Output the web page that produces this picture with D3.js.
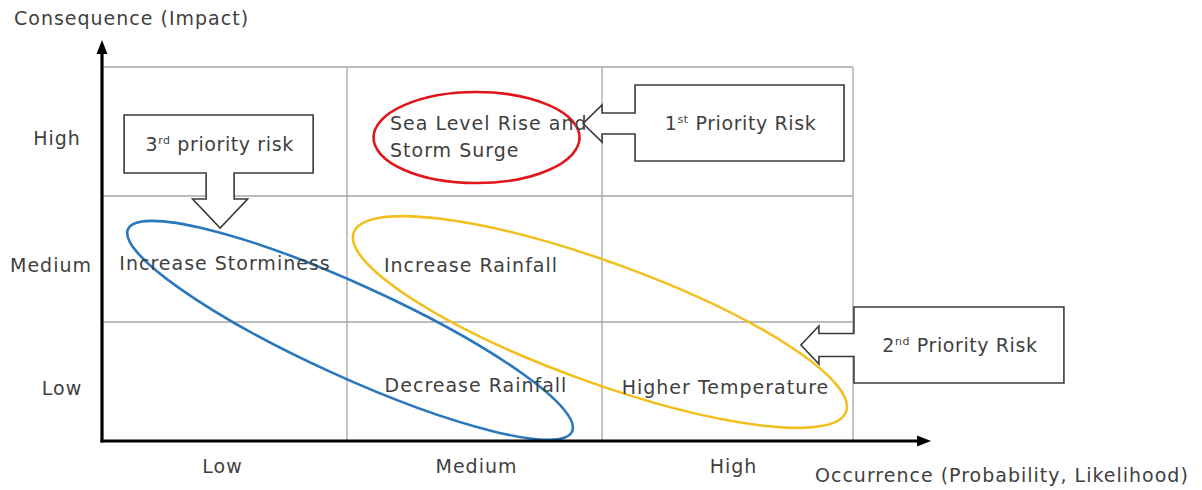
<!DOCTYPE html>
<html>
<head>
<meta charset="utf-8">
<script src="https://cdn.jsdelivr.net/npm/d3@7"></script>
<style>
  html, body { margin: 0; padding: 0; background: #ffffff; }
  svg { display: block; }
  text { font-family: "DejaVu Sans", "Noto Sans", sans-serif; fill: #3f3f3f; letter-spacing: 1px; }
</style>
</head>
<body>
<svg id="chart" width="1202" height="490"></svg>
<script>
// ---------------- data ----------------
const occurrenceLevels = ["Low", "Medium", "High"];      // x categories
const consequenceLevels = ["Low", "Medium", "High"];     // y categories
const xAxisTitle = "Occurrence (Probability, Likelihood)";
const yAxisTitle = "Consequence (Impact)";

const riskLabels = [
  ["Sea Level Rise and", "Storm Surge"],
  ["Increase Storminess"],
  ["Increase Rainfall"],
  ["Decrease Rainfall"],
  ["Higher Temperature"]
];
const riskOccurrence  = ["Medium", "Low", "Medium", "Medium", "High"];
const riskConsequence = ["High", "Medium", "Medium", "Low", "Low"];

const priorityNumber = ["1", "2", "3"];
const prioritySuffix = ["st", "nd", "rd"];
const priorityText   = [" Priority Risk", " Priority Risk", " priority risk"];
const priorityMembers = [[0], [2, 4], [1, 3]];

// ---------------- layout / style ----------------
const svg = d3.select("#chart");
// piecewise scales: cell boundaries as drawn in the matrix
const x = d3.scaleLinear().domain([0, 1, 2, 3]).range([102, 347, 602, 853]);
const y = d3.scaleLinear().domain([0, 1, 2, 3]).range([441, 322, 196, 67]);
const xi = c => occurrenceLevels.indexOf(c) + 0.5;
const yi = c => consequenceLevels.indexOf(c) + 0.5;

const ringColors = ["#e0161c", "#f2c01e", "#2b77bc"];
// ring geometry: centre in data units, radii in px, rotation in degrees
const ringGeom = [
  { cx: 1.508, cy: 2.453, rx: 103, ry: 45.5, angle: 0 },
  { cx: 1.992, cy: 1.0,   rx: 262, ry: 60,   angle: 20 },
  { cx: 1.012, cy: 0.93,  rx: 244, ry: 46,   angle: 24.5 }
];
// callout geometry: box centre in data units, sizes in px
const calloutGeom = [
  { cx: 2.548, cy: 2.566, w: 209, h: 76, dir: "left", sh: 10.5, sl: 33, hh: 18.5, hl: 19, off: 0.5 },
  { cx: 3.422, cy: 0.807, w: 210, h: 76, dir: "left", sh: 11.5, sl: 35, hh: 19,   hl: 18, off: 0 },
  { cx: 0.476, cy: 2.403, w: 189, h: 58, dir: "down", sh: 14,   sl: 26, hh: 27.5, hl: 29, off: 1.5 }
];
const labelNudge = [{ dx: 43, dy: -1.5 }, { dx: 0.5, dy: 11 }, { dx: -3.5, dy: 13 }, { dx: 1.5, dy: 10.5 }, { dx: -2, dy: 12.5 }];
const xTickNudge = [-2, 2, 6];
const yTickX = [62, 51, 57];
const FS = 19;

// ---------------- grid ----------------
const grid = svg.append("g").attr("stroke", "#a6a6a6").attr("stroke-width", 1.3);
d3.range(1, occurrenceLevels.length + 1).forEach(i => {
  grid.append("line").attr("x1", x(i)).attr("x2", x(i)).attr("y1", y(0)).attr("y2", y(consequenceLevels.length));
});
d3.range(1, consequenceLevels.length + 1).forEach(j => {
  grid.append("line").attr("x1", x(0)).attr("x2", x(occurrenceLevels.length)).attr("y1", y(j)).attr("y2", y(j));
});

// ---------------- rings ----------------
svg.append("g").selectAll("ellipse").data(ringGeom).join("ellipse")
  .attr("cx", 0).attr("cy", 0)
  .attr("rx", d => d.rx).attr("ry", d => d.ry)
  .attr("transform", d => `translate(${x(d.cx)},${y(d.cy)}) rotate(${d.angle})`)
  .attr("fill", "none")
  .attr("stroke", (d, i) => ringColors[i])
  .attr("stroke-width", 2.6);

// ---------------- axes ----------------
const axes = svg.append("g");
axes.append("line").attr("x1", x(0)).attr("x2", x(0)).attr("y1", y(0) + 1.5).attr("y2", 50)
  .attr("stroke", "#000").attr("stroke-width", 3.2);
axes.append("path").attr("d", `M${x(0)},40 L${x(0) - 5.5},54 L${x(0) + 5.5},54 Z`).attr("fill", "#000");
axes.append("line").attr("x1", x(0) - 1.5).attr("x2", 920).attr("y1", y(0)).attr("y2", y(0))
  .attr("stroke", "#000").attr("stroke-width", 3.2);
axes.append("path").attr("d", `M931,${y(0)} L917,${y(0) - 5.5} L917,${y(0) + 5.5} Z`).attr("fill", "#000");

// tick labels
svg.append("g").selectAll("text").data(occurrenceLevels).join("text")
  .attr("x", (d, i) => x(xi(d)) + xTickNudge[i]).attr("y", y(0) + 32)
  .attr("text-anchor", "middle").attr("font-size", FS).text(d => d);
svg.append("g").selectAll("text").data(consequenceLevels).join("text")
  .attr("x", (d, i) => yTickX[i]).attr("y", d => y(yi(d)) + 13)
  .attr("text-anchor", "middle").attr("font-size", FS).text(d => d);

// axis titles
svg.append("text").attr("x", 14).attr("y", 25).attr("font-size", FS).text(yAxisTitle);
svg.append("text").attr("x", 815).attr("y", 482).attr("font-size", FS).text(xAxisTitle);

// ---------------- callouts ----------------
function calloutPath(g) {
  const cx = x(g.cx), cy = y(g.cy);
  const L = cx - g.w / 2, R = cx + g.w / 2, T = cy - g.h / 2, B = cy + g.h / 2;
  const p = d3.path();
  if (g.dir === "left") {
    const ay = cy + g.off;
    p.moveTo(L, T); p.lineTo(R, T); p.lineTo(R, B); p.lineTo(L, B);
    p.lineTo(L, ay + g.sh); p.lineTo(L - g.sl, ay + g.sh); p.lineTo(L - g.sl, ay + g.hh);
    p.lineTo(L - g.sl - g.hl, ay); p.lineTo(L - g.sl, ay - g.hh); p.lineTo(L - g.sl, ay - g.sh);
    p.lineTo(L, ay - g.sh); p.closePath();
  } else {
    const ax = cx + g.off;
    p.moveTo(L, T); p.lineTo(R, T); p.lineTo(R, B); p.lineTo(ax + g.sh, B);
    p.lineTo(ax + g.sh, B + g.sl); p.lineTo(ax + g.hh, B + g.sl); p.lineTo(ax, B + g.sl + g.hl);
    p.lineTo(ax - g.hh, B + g.sl); p.lineTo(ax - g.sh, B + g.sl); p.lineTo(ax - g.sh, B);
    p.lineTo(L, B); p.closePath();
  }
  return p.toString();
}
const callouts = svg.append("g");
calloutGeom.forEach((g, i) => {
  callouts.append("path").attr("d", calloutPath(g))
    .attr("fill", "#fff").attr("stroke", "#3a3a3a").attr("stroke-width", 1.6)
    .attr("stroke-linejoin", "miter");
  const t = callouts.append("text")
    .attr("x", x(g.cx) + 1).attr("y", y(g.cy) + 7)
    .attr("text-anchor", "middle").attr("font-size", FS).attr("font-weight", 500)
    .style("letter-spacing", "0.6px");
  t.append("tspan").text(priorityNumber[i]);
  t.append("tspan").attr("font-size", 11).attr("dy", -7).text(prioritySuffix[i]);
  t.append("tspan").attr("dy", 7).text(priorityText[i]);
});

// ---------------- risk labels ----------------
const labels = svg.append("g");
riskLabels.forEach((lines, i) => {
  const cx = x(xi(riskOccurrence[i])), cy = y(yi(riskConsequence[i]));
  const multi = lines.length > 1;
  const t = labels.append("text")
    .attr("font-size", FS)
    .attr("text-anchor", multi ? "start" : "middle");
  lines.forEach((ln, k) => {
    t.append("tspan")
      .attr("x", multi ? x(xi(riskOccurrence[i]) - 0.5) + labelNudge[i].dx : cx + labelNudge[i].dx)
      .attr("y", cy + labelNudge[i].dy + k * 27)
      .text(ln);
  });
});
</script>
</body>
</html>
